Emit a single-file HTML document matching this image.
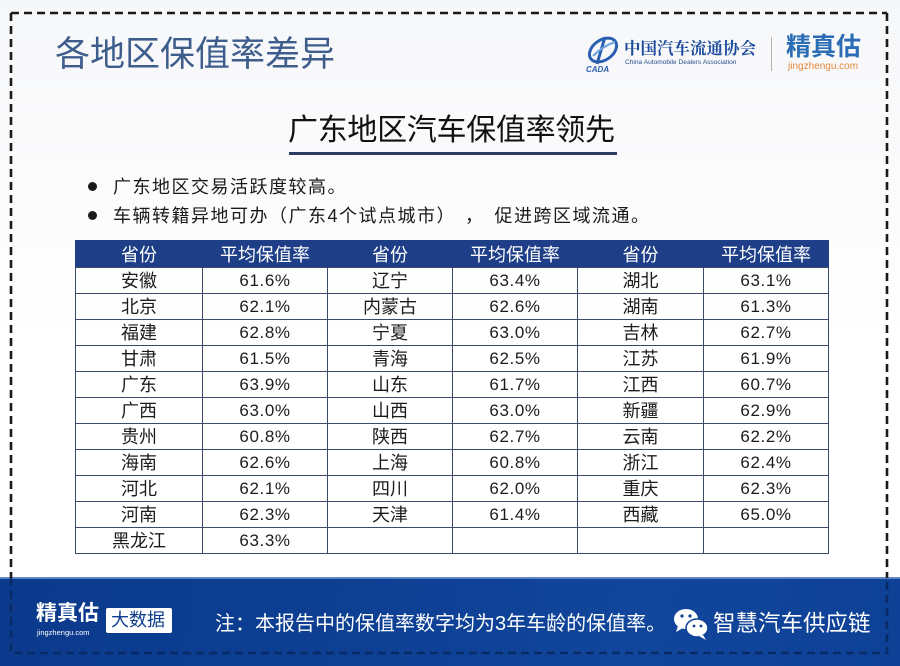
<!DOCTYPE html>
<html>
<head>
<meta charset="utf-8">
<style>
  html,body{margin:0;padding:0;}
  body{width:900px;height:666px;position:relative;overflow:hidden;background:#ffffff;
       font-family:"Liberation Sans","Noto Sans CJK SC",sans-serif;}
  .abs{position:absolute;white-space:nowrap;}
  .bgtop{position:absolute;left:0;top:0;width:900px;height:578px;
         background:linear-gradient(180deg,#f6f7f9 0%,#fbfbfc 30%,#ffffff 60%,#ffffff 100%);}
  .title{left:55px;top:33px;font-size:35px;line-height:44px;color:#3e5d8c;}
  .sub{left:288px;top:112px;font-size:30px;line-height:38px;color:#111;letter-spacing:-0.3px;}
  .uline{position:absolute;left:289px;top:152px;width:328px;height:3px;background:#2b3d63;}
  .bul{font-size:18px;line-height:22px;color:#1a1a1a;letter-spacing:1.5px;}
  .dot{position:absolute;width:9px;height:9px;border-radius:50%;background:#1a1a1a;}
  table{position:absolute;left:75px;top:240px;border-collapse:collapse;table-layout:fixed;}
  td,th{border:1.5px solid #3b4a6b;text-align:center;padding:0;font-weight:normal;}
  th{background:#1e3f88;color:#fff;height:26px;font-size:18px;border-color:#1e3f88;border-bottom-color:#3b4a6b;}
  td{height:25px;font-size:18px;color:#1c1c1c;line-height:24px;}
  td.n{font-family:"Liberation Sans",sans-serif;font-size:17px;letter-spacing:0.6px;}
  .footer{position:absolute;left:0;top:578px;width:900px;height:88px;
          background:linear-gradient(100deg,#0b3a8c 0%,#0d3f93 40%,#11469c 70%,#0e4196 100%);}
  .ftopline{position:absolute;left:0;top:577px;width:900px;height:2px;background:#5f86c4;}
</style>
</head>
<body>
<div class="bgtop"></div>

<div class="abs title">各地区保值率差异</div>

<!-- CADA logo -->
<svg class="abs" style="left:583px;top:34px" width="42" height="40" viewBox="0 0 42 40">
  <ellipse cx="20" cy="16" rx="15" ry="10" fill="none" stroke="#2a5fb0" stroke-width="3" transform="rotate(-35 20 16)"/>
  <path d="M22 3 L14 30" stroke="#2a5fb0" stroke-width="3"/>
  <path d="M10 22 Q20 12 32 8" stroke="#6fa3dc" stroke-width="2" fill="none"/>
  <text x="3" y="38" font-family="Liberation Sans,sans-serif" font-size="8" font-style="italic" font-weight="bold" fill="#2a5fb0">CADA</text>
</svg>
<div class="abs" style="left:624px;top:37px;font-family:'Noto Serif CJK SC',serif;font-weight:bold;font-size:16.5px;line-height:20px;color:#1d4c9c;">中国汽车流通协会</div>
<div class="abs" style="left:625px;top:59px;font-size:6.6px;line-height:8px;color:#2b4f8c;">China Automobile Dealers Association</div>
<div class="abs" style="left:771px;top:37px;width:1px;height:34px;background:#b5b5b5;"></div>
<div class="abs" style="left:786px;top:32px;font-size:25px;line-height:30px;color:#2b6db5;font-weight:bold;">精真估</div>
<div class="abs" style="left:788px;top:61px;font-size:10px;line-height:12px;color:#e3893a;">jingzhengu.com</div>

<div class="abs sub">广东地区汽车保值率领先</div>
<div class="uline"></div>

<div class="dot" style="left:88px;top:182px;"></div>
<div class="abs bul" style="left:113px;top:176px;">广东地区交易活跃度较高。</div>
<div class="dot" style="left:88px;top:211px;"></div>
<div class="abs bul" style="left:113px;top:205px;">车辆转籍异地可办（广东4个试点城市）<span style="display:inline-block;width:9px"></span>，<span style="display:inline-block;width:10px"></span>促进跨区域流通。</div>

<table>
  <colgroup>
    <col style="width:127px"><col style="width:125px"><col style="width:125px">
    <col style="width:125px"><col style="width:126px"><col style="width:125px">
  </colgroup>
  <tr><th>省份</th><th>平均保值率</th><th>省份</th><th>平均保值率</th><th>省份</th><th>平均保值率</th></tr>
  <tr><td>安徽</td><td class="n">61.6%</td><td>辽宁</td><td class="n">63.4%</td><td>湖北</td><td class="n">63.1%</td></tr>
  <tr><td>北京</td><td class="n">62.1%</td><td>内蒙古</td><td class="n">62.6%</td><td>湖南</td><td class="n">61.3%</td></tr>
  <tr><td>福建</td><td class="n">62.8%</td><td>宁夏</td><td class="n">63.0%</td><td>吉林</td><td class="n">62.7%</td></tr>
  <tr><td>甘肃</td><td class="n">61.5%</td><td>青海</td><td class="n">62.5%</td><td>江苏</td><td class="n">61.9%</td></tr>
  <tr><td>广东</td><td class="n">63.9%</td><td>山东</td><td class="n">61.7%</td><td>江西</td><td class="n">60.7%</td></tr>
  <tr><td>广西</td><td class="n">63.0%</td><td>山西</td><td class="n">63.0%</td><td>新疆</td><td class="n">62.9%</td></tr>
  <tr><td>贵州</td><td class="n">60.8%</td><td>陕西</td><td class="n">62.7%</td><td>云南</td><td class="n">62.2%</td></tr>
  <tr><td>海南</td><td class="n">62.6%</td><td>上海</td><td class="n">60.8%</td><td>浙江</td><td class="n">62.4%</td></tr>
  <tr><td>河北</td><td class="n">62.1%</td><td>四川</td><td class="n">62.0%</td><td>重庆</td><td class="n">62.3%</td></tr>
  <tr><td>河南</td><td class="n">62.3%</td><td>天津</td><td class="n">61.4%</td><td>西藏</td><td class="n">65.0%</td></tr>
  <tr><td>黑龙江</td><td class="n">63.3%</td><td></td><td></td><td></td><td></td></tr>
</table>

<div class="footer"></div>
<div class="ftopline"></div>

<div class="abs" style="left:36px;top:601px;font-size:21px;line-height:26px;color:#fff;font-weight:bold;">精真估</div>
<div class="abs" style="left:37px;top:628px;font-size:7.5px;line-height:9px;color:#fff;">jingzhengu.com</div>
<div class="abs" style="left:106px;top:608px;width:66px;height:25px;background:#fff;border-radius:2px;"></div>
<div class="abs" style="left:111px;top:608px;font-size:18px;line-height:25px;color:#0f3d8c;">大数据</div>

<div class="abs" style="left:215px;top:611px;font-size:20px;line-height:26px;color:#fff;">注：本报告中的保值率数字均为3年车龄的保值率。</div>

<!-- wechat icon -->
<svg class="abs" style="left:672px;top:607px" width="38" height="34" viewBox="0 0 38 34">
  <ellipse cx="14" cy="12" rx="12" ry="10" fill="#fff"/>
  <path d="M6 19 L4 25 L11 21 Z" fill="#fff"/>
  <ellipse cx="25" cy="21" rx="11" ry="9" fill="#fff" stroke="#0e4196" stroke-width="1.5"/>
  <path d="M31 28 L34 33 L27 29 Z" fill="#fff"/>
  <circle cx="10" cy="9" r="1.6" fill="#0e4196"/>
  <circle cx="18" cy="9" r="1.6" fill="#0e4196"/>
  <circle cx="22" cy="19" r="1.4" fill="#0e4196"/>
  <circle cx="29" cy="19" r="1.4" fill="#0e4196"/>
</svg>
<div class="abs" style="left:713px;top:609px;font-size:22.5px;line-height:30px;color:#fff;">智慧汽车供应链</div>

<!-- dashed frame -->
<svg class="abs" style="left:0;top:0" width="900" height="666" viewBox="0 0 900 666">
  <g fill="none" stroke-width="2.6" stroke-dasharray="8 5">
    <path d="M11 13 L887 13" stroke="#1a1a1a"/>
    <path d="M11 13 L11 578" stroke="#1a1a1a"/>
    <path d="M887 13 L887 578" stroke="#1a1a1a"/>
    <path d="M11 578 L11 653 L887 653 L887 578" stroke="#082a66"/>
  </g>
</svg>
</body>
</html>
